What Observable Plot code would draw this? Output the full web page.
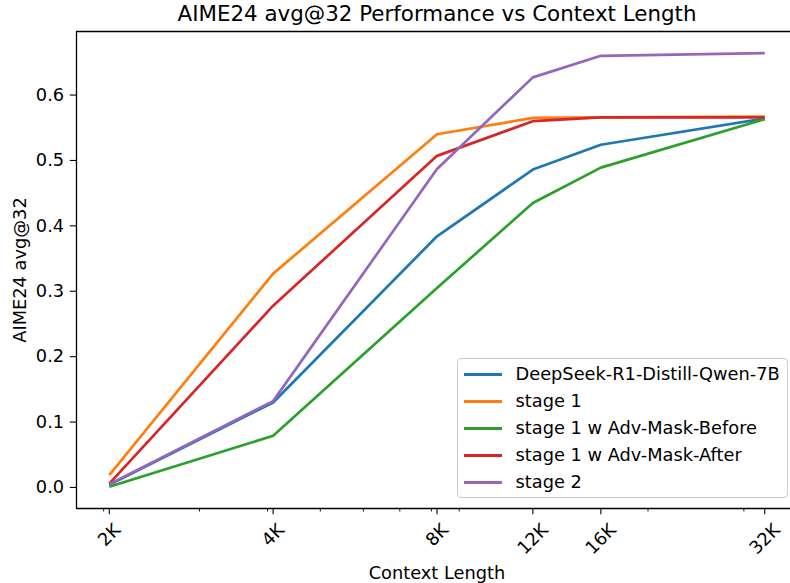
<!DOCTYPE html>
<html><head><meta charset="utf-8">
<script src="https://cdn.jsdelivr.net/npm/d3@7"></script>
<script src="https://cdn.jsdelivr.net/npm/@observablehq/plot@0.6"></script>
<style>
body{margin:0;background:#fff;font-family:"DejaVu Sans",sans-serif;}
#wrap{position:relative;width:790px;height:583px;overflow:hidden;background:#fff;}
#legend{position:absolute;left:457px;top:358px;width:329px;height:138px;border:1.2px solid #cccccc;border-radius:4px;background:rgba(255,255,255,0.8);font-family:"DejaVu Sans";font-size:17.8px;color:#000;}
.row{position:absolute;left:0;height:20px;line-height:20px;white-space:nowrap;}
.swatch{position:absolute;left:6px;top:9px;width:38px;height:3px;}
.lbl{position:absolute;left:57.5px;top:0;}
</style></head><body><div id="wrap"></div>
<script>
// ---- data ----
const contextLengths = [2048, 4096, 8192, 12288, 16384, 32768];
const tickLabels = ["2K", "4K", "8K", "12K", "16K", "32K"];
const minorTicks = [2000, 3000, 4000, 5000, 6000, 7000, 8000, 9000, 20000, 30000];
const yTicks = [0.0, 0.1, 0.2, 0.3, 0.4, 0.5, 0.6];
const seriesNames = ["DeepSeek-R1-Distill-Qwen-7B", "stage 1", "stage 1 w Adv-Mask-Before", "stage 1 w Adv-Mask-After", "stage 2"];
const seriesColors = ["#1f77b4", "#ff7f0e", "#2ca02c", "#d62728", "#9467bd"];
const deepseek = [0.004, 0.130, 0.384, 0.486, 0.524, 0.564];
const stage1 = [0.019, 0.327, 0.540, 0.565, 0.566, 0.567];
const advBefore = [0.001, 0.079, 0.305, 0.435, 0.489, 0.563];
const advAfter = [0.006, 0.278, 0.507, 0.560, 0.566, 0.566];
const stage2 = [0.005, 0.132, 0.487, 0.627, 0.660, 0.664];
const titleText = "AIME24 avg@32 Performance vs Context Length";
const xLabel = "Context Length";
const yLabel = "AIME24 avg@32";

const seriesValues = [deepseek, stage1, advBefore, advAfter, stage2];
const rows = [];
seriesValues.forEach((vals, s) => vals.forEach((v, i) => rows.push({x: contextLengths[i], y: v, series: seriesNames[s]})));

// matplotlib-style 5% margins (log space for x)
const lx0 = Math.log2(d3.min(contextLengths)), lx1 = Math.log2(d3.max(contextLengths));
const xmin = 2 ** (lx0 - 0.05 * (lx1 - lx0)), xmax = 2 ** (lx1 + 0.05 * (lx1 - lx0));
const ylo = d3.min(rows, d => d.y), yhi = d3.max(rows, d => d.y);
const ymin = ylo - 0.05 * (yhi - ylo), ymax = yhi + 0.05 * (yhi - ylo);
const xmid = Math.sqrt(xmin * xmax);

const FS = 17.8;
const ctx = document.createElement("canvas").getContext("2d");
ctx.font = FS + "px 'DejaVu Sans'";
const tickLabelMarks = contextLengths.map((c, i) => {
  const w = ctx.measureText(tickLabels[i]).width;
  const h = 0.97 * FS;
  const dy = 6.2 + 6.2 + (w + h) * 0.3536;
  return Plot.text([c], {x: d => d, frameAnchor: "bottom", dy, text: () => tickLabels[i], rotate: -45, textAnchor: "middle", lineAnchor: "middle", fontSize: FS, fill: "#000"});
});

const chart = Plot.plot({
  width: 790, height: 583,
  marginTop: 31, marginBottom: 75, marginLeft: 76, marginRight: 0,
  style: "font-family:'DejaVu Sans';font-size:17.8px;background:white;color:#000;",
  x: {type: "log", domain: [xmin, xmax], range: [76, 797]},
  y: {domain: [ymin, ymax]},
  color: {domain: seriesNames, range: seriesColors},
  marks: [
    Plot.axisY({ticks: yTicks, tickFormat: d3.format(".1f"), tickSize: 6.2, tickPadding: 6.2, fontSize: FS, label: null, strokeWidth: 1.1, stroke: "#000", fill: "#000"}),
    Plot.axisX({ticks: contextLengths, tickSize: 6.2, tickFormat: () => "", label: null, strokeWidth: 1.1, stroke: "#000"}),
    Plot.axisX({ticks: minorTicks, tickSize: 3.5, tickFormat: () => "", label: null, strokeWidth: 0.9, stroke: "#000"}),
    ...tickLabelMarks,
    Plot.line(rows, {x: "x", y: "y", z: "series", stroke: "series", strokeWidth: 2.7, strokeLinejoin: "round", strokeLinecap: "butt"}),
    Plot.ruleY([ymin], {stroke: "#000", strokeWidth: 1.3}),
    Plot.ruleY([ymax], {stroke: "#000", strokeWidth: 1.3}),
    Plot.ruleX([xmin], {stroke: "#000", strokeWidth: 1.3}),
    Plot.text([titleText], {x: () => xmid, frameAnchor: "top", dy: -10.5, lineAnchor: "bottom", text: d => d, fontSize: 21.4, fill: "#000"}),
    Plot.text([xLabel], {x: () => xmid, frameAnchor: "bottom", dy: 65, lineAnchor: "middle", text: d => d, fontSize: FS, fill: "#000"}),
    Plot.text([yLabel], {frameAnchor: "left", dx: -51, rotate: -90, lineAnchor: "bottom", textAnchor: "middle", text: d => d, fontSize: FS, fill: "#000"})
  ]
});
const wrap = document.getElementById("wrap");
wrap.appendChild(chart);

// legend
const legend = document.createElement("div");
legend.id = "legend";
seriesNames.forEach((name, i) => {
  const r = document.createElement("div");
  r.className = "row";
  r.style.top = Math.round(15 + i * 27.1 - 10) + "px";
  const sw = document.createElement("div");
  sw.className = "swatch";
  sw.style.background = seriesColors[i];
  const lb = document.createElement("div");
  lb.className = "lbl";
  lb.textContent = name;
  r.appendChild(sw); r.appendChild(lb);
  legend.appendChild(r);
});
wrap.appendChild(legend);
</script>
</body></html>
